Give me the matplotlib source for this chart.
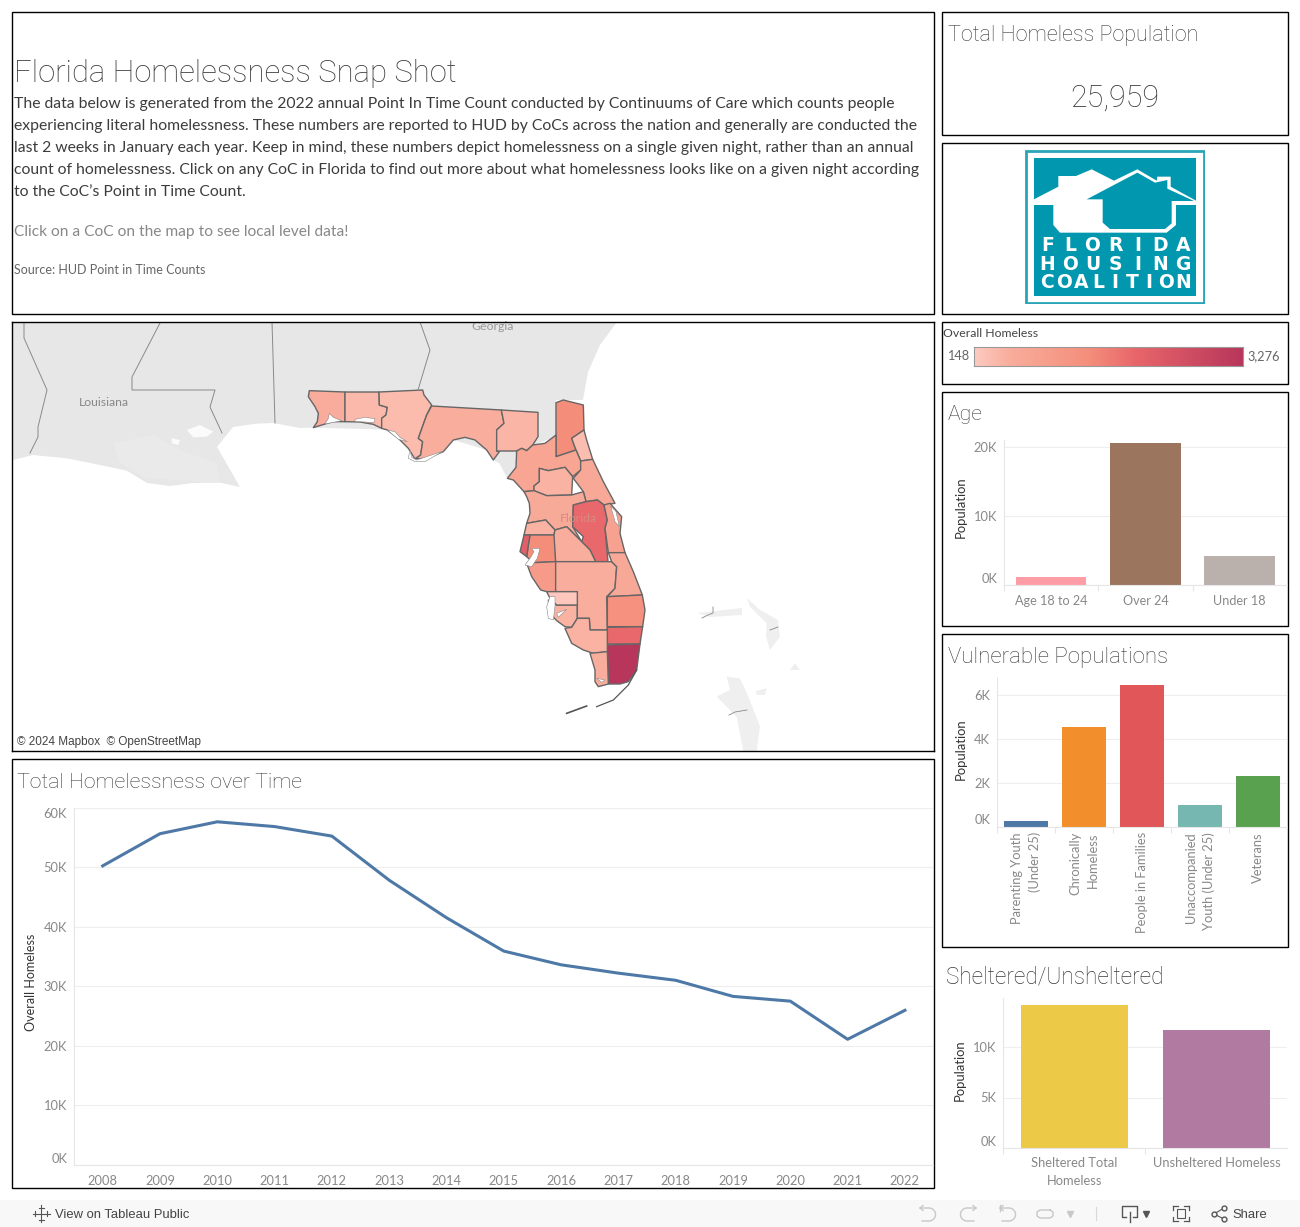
import numpy as np
import matplotlib
matplotlib.use('Agg')
import matplotlib.pyplot as plt
from matplotlib.colors import LinearSegmentedColormap
from matplotlib.patches import Polygon, Rectangle

# Daten
years = [2008, 2009, 2010, 2011, 2012, 2013, 2014, 2015, 2016, 2017, 2018, 2019, 2020, 2021, 2022]
homeless = [50.2, 55.6, 57.6, 56.8, 55.2, 47.8, 41.5, 35.9, 33.6, 32.2, 31.0, 28.3, 27.5, 21.1, 25.96]

age_labels = ['Age 18 to 24', 'Over 24', 'Under 18']
age_values = [1.15, 20.6, 4.2]
age_colors = ['#ff9da7', '#9c755f', '#bab0ac']

vuln_labels = ['Parenting Youth\n(Under 25)', 'Chronically\nHomeless', 'People in Families',
               'Unaccompanied\nYouth (Under 25)', 'Veterans']
vuln_values = [0.23, 4.55, 6.47, 1.0, 2.3]
vuln_colors = ['#4e79a7', '#f28e2b', '#e15759', '#76b7b2', '#59a14f']

shelter_labels = ['Sheltered Total\nHomeless', 'Unsheltered Homeless']
shelter_values = [14.2, 11.75]
shelter_colors = ['#edc948', '#b07aa1']

body_lines = [
    "The data below is generated from the 2022 annual Point In Time Count conducted by Continuums of Care which counts people",
    "experiencing literal homelessness. These numbers are reported to HUD by CoCs across the nation and generally are conducted the",
    "last 2 weeks in January each year. Keep in mind, these numbers depict homelessness on a single given night, rather than an annual",
    "count of homelessness. Click on any CoC in Florida to find out more about what homelessness looks like on a given night according",
    "to the CoC\u2019s Point in Time Count.",
]

# CoC Gebiete: Karteneinheiten und Overall Homeless
coc_values = [600, 400, 380, 550, 450, 1500, 350, 800, 500, 700, 650, 2000, 900, 500, 1500, 2200,
              550, 1100, 500, 550, 700, 1400, 2000, 3276, 500, 550, 200]
coc_shapes = [
    [(28,32),(135,36),(135,125),(100,125),(75,132),(40,143),(52,125),(55,100),(45,80),(25,50)],
    [(135,36),(237,36),(238,75),(262,82),(258,105),(245,115),(245,145),(220,133),(180,126),(135,125)],
    [(237,36),(368,30),(372,45),(395,75),(380,105),(355,175),(368,185),(362,225),(345,237),(325,205),(295,175),(262,150),(245,145),(245,115),(258,105),(262,82),(238,75)],
    [(395,78),(604,90),(612,130),(590,150),(590,213),(598,215),(580,240),(560,210),(525,180),(495,172),(460,180),(430,215),(380,235),(345,237),(362,225),(368,185),(355,175),(380,105)],
    [(604,90),(714,97),(714,170),(698,195),(680,212),(665,205),(650,213),(590,213),(590,150),(612,130)],
    [(768,68),(790,60),(850,75),(852,150),(815,175),(828,210),(768,230)],
    [(815,175),(852,150),(860,180),(878,238),(842,243),(828,210)],
    [(768,165),(768,230),(828,210),(842,243),(842,270),(818,290),(795,262),(745,272),(718,265),(718,305),(702,318),(702,332),(672,335),(640,300),(622,295),(648,262),(650,213),(665,205),(680,212),(698,195),(735,190)],
    [(718,265),(745,272),(795,262),(818,290),(815,345),(740,347),(702,332),(702,318),(718,305)],
    [(842,243),(878,238),(910,305),(945,370),(912,375),(892,360),(858,365),(850,335),(820,295),(842,270)],
    [(672,335),(702,332),(740,347),(815,345),(850,335),(858,365),(820,375),(818,440),(845,485),(800,440),(765,450),(737,420),(680,430),(690,400),(688,370),(680,350)],
    [(820,375),(858,365),(892,360),(912,375),(922,420),(915,445),(924,545),(887,545),(870,510),(845,485),(850,470),(818,440)],
    [(912,375),(930,370),(965,410),(960,460),(975,518),(925,518),(915,445),(922,420)],
    [(680,430),(737,420),(765,450),(762,465),(672,465)],
    [(690,465),(765,465),(767,545),(700,548),(680,530),(685,495)],
    [(672,465),(690,465),(685,495),(680,530),(660,515)],
    [(762,465),(765,450),(800,440),(845,485),(870,510),(887,545),(767,545)],
    [(680,550),(700,548),(767,545),(767,635),(740,635),(722,630),(695,590)],
    [(745,660),(770,675),(832,675),(832,715),(815,742),(795,740),(770,722),(750,700)],
    [(767,545),(935,545),(950,560),(945,625),(920,650),(922,750),(870,750),(868,715),(832,715),(832,635),(767,635)],
    [(925,518),(975,518),(1000,575),(1027,645),(922,650),(945,625),(950,560),(935,545)],
    [(922,650),(1027,645),(1035,690),(1028,740),(922,740)],
    [(922,742),(1028,740),(1020,792),(922,792)],
    [(922,795),(1020,792),(1010,870),(985,905),(960,912),(925,912)],
    [(832,715),(868,715),(870,750),(922,750),(922,815),(880,820),(850,810),(815,790),(795,745),(815,742)],
    [(870,820),(922,815),(925,912),(895,920),(885,905),(885,870)],
    [(740,635),(832,635),(832,675),(770,675),(750,655)],
]
water_shapes = [
    [(88,100),(100,112),(125,122),(75,132),(85,115)],
    [(165,118),(195,112),(225,116),(222,128),(165,124)],
    [(262,150),(285,155),(300,172),(322,185),(295,178)],
    [(330,210),(335,232),(350,240),(430,213),(375,245),(345,245),(325,235)],
    [(695,505),(720,505),(712,535),(695,560),(675,555),(692,532),(702,515)],
    [(750,650),(765,650),(765,680),(760,720),(745,715),(740,680)],
    [(770,700),(800,688),(775,712)],
    [(932,378),(948,395),(958,440),(945,425)],
    [(890,895),(915,900),(905,907)],
]
land_shape = [(-864,-174),(951,-174),(900,-105),(864,-24),(849,60),(768,60),(768,170),(700,195),(650,213),(648,262),
              (622,295),(598,250),(580,240),(560,210),(460,180),(350,240),(300,150),(40,143),(0,144),(-81,129),(-130,131),
              (-201,141),(-249,201),(-180,321),(-240,308),(-321,309),(-390,318),(-459,309),(-520,272),(-600,255),(-700,235),
              (-801,225),(-861,240)]
lake_shapes = [
    [(-340,150),(-300,135),(-260,155),(-280,170),(-320,172)],
    [(-385,175),(-360,180),(-365,195),(-385,190)],
]
marsh_shapes = [
    [(-560,190),(-440,165),(-360,210),(-250,250),(-240,308),(-380,300),(-460,295),(-540,250)],
]
state_borders = [
    [(-828,-174),(-828,-126),(-759,30),(-786,141),(-786,171),(-810,219)],
    [(-420,-171),(-504,-9),(-504,30),(-255,30),(-270,81),(-234,159)],
    [(-84,-174),(-75,129)],
    [(360,-174),(390,-90),(354,30)],
]
island_shapes = [
    [(1191,699),(1326,684),(1326,705),(1230,711)],
    [(1341,654),(1380,690),(1434,720),(1440,770),(1410,810),(1398,770),(1400,730),(1350,680)],
    [(1280,890),(1320,895),(1345,950),(1380,1040),(1370,1113),(1330,1113),(1310,1010),(1250,950),(1290,930)],
    [(1368,933),(1400,925),(1395,945),(1370,945)],
    [(1470,870),(1485,850),(1500,870)],
]
island_borders = [
    [(1206,714),(1224,705),(1239,699),(1239,681)],
    [(1410,750),(1434,741)],
    [(1287,1005),(1305,996),(1341,990)],
]
keys_lines = [
    [(800,1000),(860,978)],
    [(890,980),(940,960),(985,915),(1010,870)],
]

fig = plt.figure(figsize=(13, 12.27), dpi=100)
plt.rcParams['font.family'] = ['Lato', 'DejaVu Sans']

page = fig.add_axes([0, 0, 1, 1], zorder=0)
page.set_xlim(0, 1300)
page.set_ylim(1227, 0)
page.axis('off')


def px_axes(x0, y0, x1, y1, zorder=1):
    # Achse aus Pixelkoordinaten anlegen
    return fig.add_axes([x0 / 1300, 1 - y1 / 1227, (x1 - x0) / 1300, (y1 - y0) / 1227], zorder=zorder)


def txt(x, y, s, size, color='#444444', ha='left', va='center', **kw):
    page.text(x, y, s, fontsize=size, color=color, ha=ha, va=va, **kw)


def title(x, y, s, size=15.2, **kw):
    txt(x, y, s, size, color='#3a3a3a', family='Roboto', fontweight='light', **kw)


# Rahmen
boxes = [(12, 12, 934, 314), (942, 12, 1288, 135), (942, 143, 1288, 314), (942, 322, 1288, 384),
         (12, 759, 934, 1188), (942, 392, 1288, 626), (942, 634, 1288, 947)]
for x0, y0, x1, y1 in boxes:
    page.add_patch(Rectangle((x0, y0), x1 - x0, y1 - y0, fill=False, ec='black', lw=1))

# Kopfbereich
title(14, 73.5, 'Florida Homelessness Snap Shot', 22.3)
for i, line in enumerate(body_lines):
    txt(14, 108 + i * 22, line, 11.35, color='#3c3c3c', va='baseline')
txt(14, 232, 'Click on a CoC on the map to see local level data!', 11.2, color='#888888')
txt(14, 269.5, 'Source: HUD Point in Time Counts', 9, color='#666666')

title(948, 35, 'Total Homeless Population', 15.5)
title(1114.5, 98.5, '25,959', 22, ha='center')

# Logo
logo = px_axes(1025, 150, 1205, 304)
logo.set_xlim(255, 795)
logo.set_ylim(492, 30)
logo.axis('off')
logo.add_patch(Rectangle((257, 32), 534, 456, fc='#ffffff', ec='#2aa5b8', lw=2))
logo.add_patch(Rectangle((281, 53), 487, 414, fc='#0197ae', ec='none'))
logo.add_patch(Polygon([(282,178),(355,140),(355,108),(408,108),(455,88),(522,122),(592,88),(650,122),(652,110),
                        (692,110),(692,140),(768,182),(768,195),(708,195),(708,255),(680,278),(360,278),(340,255),
                        (340,195),(282,195)], fc='white', ec='none'))
logo.add_patch(Polygon([(440,178),(592,98),(645,128),(682,120),(682,146),(762,183),(695,183),(695,250),(675,267),
                        (510,267),(488,248),(488,178)], fc='#0197ae', ec='none'))
for word, yc in [('FLORIDA', 317), ('HOUSING', 373), ('COALITION', 428)]:
    for ch, xc in zip(word, np.linspace(322, 728, len(word))):
        logo.text(xc, yc, ch, fontsize=13.5, color='white', ha='center', va='center',
                  fontweight='bold', family='DejaVu Sans')

# Farblegende
cmap = LinearSegmentedColormap.from_list('coc', [(0, '#fdcbc2'), (0.13, '#f9ad9c'), (0.43, '#f48e7b'),
                                                 (0.6, '#e8666a'), (1, '#b8365b')])
txt(943, 333.5, 'Overall Homeless', 8.8, color='#444444')
txt(947, 356, '148', 9.2, color='#666666')
txt(1247, 356, '3,276', 9.2, color='#666666')
leg = px_axes(974, 347, 1243, 366)
leg.imshow(np.linspace(0, 1, 256)[None, :], aspect='auto', cmap=cmap)
leg.set_xticks([])
leg.set_yticks([])
for sp in leg.spines.values():
    sp.set_color('#999999')

# Karte
karte = px_axes(12, 322, 934, 751)
karte.set_xlim(-864, 1902)
karte.set_ylim(1113, -174)
karte.set_xticks([])
karte.set_yticks([])
for sp in karte.spines.values():
    sp.set_color('black')
    sp.set_linewidth(1)
    sp.set_zorder(10)
karte.add_patch(Polygon(land_shape, fc='#e7e7e7', ec='none'))
for shp in marsh_shapes:
    karte.add_patch(Polygon(shp, fc='#eaeaea', ec='none'))
for shp in lake_shapes:
    karte.add_patch(Polygon(shp, fc='#fbfbfb', ec='none'))
for shp in island_shapes:
    karte.add_patch(Polygon(shp, fc='#efefef', ec='none'))
for b in state_borders:
    karte.plot(*zip(*b), color='#8a8a8a', lw=0.7)
for b in island_borders:
    karte.plot(*zip(*b), color='#888888', lw=0.6)
norm = plt.Normalize(148, 3276)
for shp, val in zip(coc_shapes, coc_values):
    karte.add_patch(Polygon(shp, fc=cmap(norm(val)), ec='#666666', lw=1.0, joinstyle='round'))
for shp in water_shapes:
    karte.add_patch(Polygon(shp, fc='white', ec='#888888', lw=0.4))
for k, w in zip(keys_lines, [1.2, 0.9]):
    karte.plot(*zip(*k), color='#555555', lw=w)
karte.text(-588, 69, 'Louisiana', fontsize=8.8, color='#888888', ha='center', va='center')
karte.text(579, -159, 'Georgia', fontsize=8.8, color='#999999', ha='center', va='center')
karte.text(834, 417, 'Florida', fontsize=8.8, color='#d98a80', ha='center', va='center')
karte.text(-849, 1086, '\u00a9 2024 Mapbox  \u00a9 OpenStreetMap', fontsize=8.5, color='#444444', va='center',
           family='Liberation Sans')


def style_axis(ax, top_label_va=None):
    ax.set_facecolor('none')
    for name, sp in ax.spines.items():
        sp.set_visible(name in ('left', 'bottom'))
        sp.set_color('#e6e6e6')
        sp.set_linewidth(0.8)
    ax.grid(axis='y', color='#eeeeee', lw=0.8)
    ax.set_axisbelow(True)
    ax.tick_params(length=0, labelsize=9.3, labelcolor='#888888', pad=5)
    labs = ax.get_yticklabels()
    labs[0].set_va('bottom')
    if top_label_va:
        labs[-1].set_va(top_label_va)


def k_format(ticks):
    return [f'{t}K' for t in ticks]


def band_ticks(ax, n):
    # kleine Striche an den Bandgrenzen
    ax.set_xticks(np.arange(n) - 0.5, minor=True)
    ax.tick_params(axis='x', which='minor', length=4, color='#e6e6e6', width=0.8)


# Linie ueber die Zeit
title(17, 782, 'Total Homelessness over Time', 15.3)
ax_line = px_axes(74, 807.5, 933, 1165)
ax_line.plot(years, homeless, color='#4e79a7', lw=2.2)
ax_line.set_xlim(2007.5, 2022.49)
ax_line.set_ylim(0, 60)
ax_line.set_xticks(years)
ax_line.set_yticks([0, 10, 20, 30, 40, 50, 60], k_format([0, 10, 20, 30, 40, 50, 60]))
style_axis(ax_line, 'top')
ax_line.tick_params(axis='x', pad=7)
txt(31, 982.5, 'Overall Homeless', 9, color='#333333', ha='center', rotation=90)

# Alter
title(948, 415, 'Age')
ax_age = px_axes(1004, 440, 1287, 585)
ax_age.bar(range(3), age_values, width=0.75, color=age_colors)
ax_age.set_xlim(-0.498, 2.502)
ax_age.set_ylim(0, 21)
ax_age.set_yticks([0, 10, 20], k_format([0, 10, 20]))
ax_age.set_xticks(range(3), age_labels)
style_axis(ax_age)
band_ticks(ax_age, 3)
ax_age.tick_params(axis='x', which='major', pad=7, labelsize=9.1)
txt(961, 507.5, 'Population', 9.4, color='#333333', ha='center', rotation=90)

# Vulnerable Gruppen
title(948, 657, 'Vulnerable Populations', 16)
ax_vuln = px_axes(997, 677, 1287, 826.5)
ax_vuln.bar(range(5), vuln_values, width=0.76, color=vuln_colors)
ax_vuln.set_xlim(-0.5, 4.5)
ax_vuln.set_ylim(0, 149.5 / 21.9)
ax_vuln.set_yticks([0, 2, 4, 6], k_format([0, 2, 4, 6]))
ax_vuln.set_xticks(range(5), vuln_labels, rotation=90, ha='center', va='top', multialignment='right',
                   linespacing=1.55)
style_axis(ax_vuln)
band_ticks(ax_vuln, 5)
ax_vuln.tick_params(axis='x', which='major', pad=4)
txt(961, 749, 'Population', 9.4, color='#333333', ha='center', rotation=90)

# Sheltered
title(946, 977, 'Sheltered/Unsheltered', 16.3)
ax_sh = px_axes(1003, 998, 1287, 1147.7)
ax_sh.bar(range(2), shelter_values, width=0.754, color=shelter_colors)
ax_sh.set_xlim(-0.5035, 1.4965)
ax_sh.set_ylim(0, 149.7 / 10.04)
ax_sh.set_yticks([0, 5, 10], k_format([0, 5, 10]))
ax_sh.set_xticks(range(2), shelter_labels, linespacing=1.55)
style_axis(ax_sh)
band_ticks(ax_sh, 2)
ax_sh.tick_params(axis='x', which='major', pad=7)
txt(960, 1070, 'Population', 9.4, color='#333333', ha='center', rotation=90)

# Werkzeugleiste
page.add_patch(Rectangle((0, 1200), 1300, 27, fc='#f8f8f8', ec='none'))
txt(55, 1214.5, 'View on Tableau Public', 9.4, color='#444444', family='Liberation Sans')
txt(1232, 1214.5, 'Share', 9.4, color='#444444', family='Liberation Sans')
for dx, dy in [(41, 1213.5), (35, 1213.5), (47, 1213.5), (41, 1207.5), (41, 1219.5)]:
    page.plot([dx - 2.5, dx + 2.5], [dy, dy], color='#555555', lw=0.8)
    page.plot([dx, dx], [dy - 2.5, dy + 2.5], color='#555555', lw=0.8)
t = np.linspace(-np.pi / 2, np.pi / 2, 20)
for cx, flip in [(928, 1), (968, -1), (1008, 1)]:
    page.plot(np.r_[cx - flip * 8, cx + flip * (1 + 6.5 * np.cos(t)), cx - flip * 6],
              np.r_[1208, 1214.5 + 6.5 * np.sin(t), 1221], color='#c8c8c8', lw=1)
    page.plot([cx - flip * 5, cx - flip * 8, cx - flip * 5], [1205.5, 1208, 1210.5], color='#c8c8c8', lw=1)
page.plot([1000, 1000], [1205, 1211], color='#c8c8c8', lw=1)
page.plot([1050, 1040, 1037, 1037, 1040, 1050, 1053, 1053, 1050], [1210, 1210, 1212, 1216, 1218, 1218, 1216, 1212, 1210],
          color='#c8c8c8', lw=1)
page.plot([1070], [1214], marker='v', ms=4, color='#c8c8c8')
page.plot([1095.5, 1095.5], [1207, 1220], color='#d8d8d8', lw=0.8)
page.plot([1126, 1122, 1122, 1137, 1137, 1133], [1217, 1217, 1206, 1206, 1217, 1217], color='#555555', lw=1)
page.plot([1129.5, 1129.5], [1212, 1222], color='#555555', lw=1)
page.plot([1146], [1214], marker='v', ms=4, color='#555555')
page.add_patch(Rectangle((1177, 1209), 8, 9, fill=False, ec='#555555', lw=0.8))
for sx, sy, ex, ey in [(1173, 1210, 1173, 1206), (1173, 1206, 1178, 1206), (1184, 1206, 1189, 1206), (1189, 1206, 1189, 1210),
                       (1173, 1217, 1173, 1221), (1173, 1221, 1178, 1221), (1184, 1221, 1189, 1221), (1189, 1221, 1189, 1217)]:
    page.plot([sx, ex], [sy, ey], color='#555555', lw=0.9)
page.plot([1224, 1214, 1224], [1208, 1214, 1219], color='#555555', lw=0.8, marker='o', ms=3.5, mfc='#f8f8f8')

fig.savefig('out.png', dpi=100)
